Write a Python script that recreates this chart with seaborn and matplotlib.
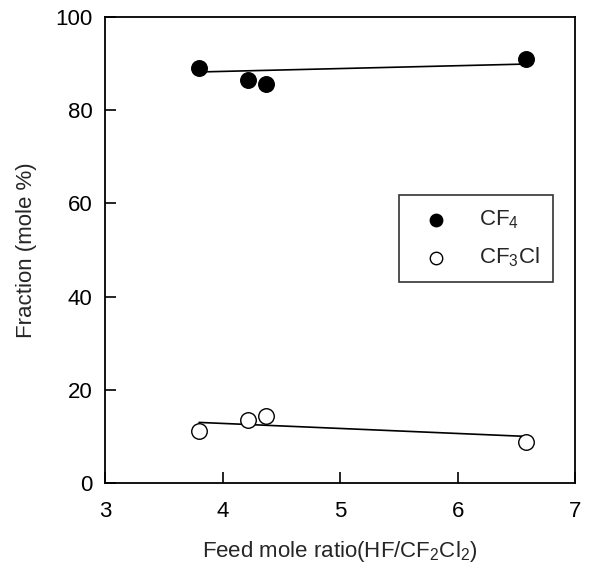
import matplotlib
matplotlib.use("Agg")
import matplotlib.pyplot as plt
import seaborn as sns
import pandas as pd

# Feed mole ratio HF/CF2Cl2 and product fractions (mole %)
feed_ratio = [3.80, 4.22, 4.37, 6.58]
cf4_fraction = [89.0, 86.4, 85.6, 91.0]
cf3cl_fraction = [11.2, 13.6, 14.4, 8.7]

# Trend lines drawn through each series
trend_x = [3.80, 6.58]
cf4_trend = [88.2, 89.9]
cf3cl_trend = [13.0, 10.0]

x_ticks = [3, 4, 5, 6, 7]
y_ticks = [0, 20, 40, 60, 80, 100]

sns.set_theme(style="ticks")
plt.rcParams["font.family"] = ["Liberation Sans", "DejaVu Sans"]
plt.rcParams["mathtext.default"] = "regular"

FS = 16

fig = plt.figure(figsize=(5.9, 5.72), dpi=100)
ax = fig.add_axes([0.178, 0.1556, 0.797, 0.8147])

df = pd.DataFrame({"x": feed_ratio, "cf4": cf4_fraction, "cf3cl": cf3cl_fraction})
trend = pd.DataFrame({"x": trend_x, "cf4": cf4_trend, "cf3cl": cf3cl_trend})

sns.lineplot(data=trend, x="x", y="cf4", ax=ax, color="black", lw=1.2, legend=False)
sns.lineplot(data=trend, x="x", y="cf3cl", ax=ax, color="black", lw=1.2, legend=False)

sns.scatterplot(data=df, x="x", y="cf4", ax=ax, s=125, color="black",
                edgecolor="black", linewidth=1.0, label="CF$_4$", zorder=3)
sns.scatterplot(data=df, x="x", y="cf3cl", ax=ax, s=125, facecolor="white",
                edgecolor="black", linewidth=1.0, label="CF$_3$Cl", zorder=3)

ax.set_xlim(3, 7)
ax.set_ylim(0, 100)
ax.set_xticks(x_ticks)
ax.set_yticks(y_ticks)
ax.tick_params(direction="in", length=8, width=1.2, labelsize=FS, colors="black")
ax.tick_params(axis="x", pad=13)
ax.tick_params(axis="y", pad=9)
for side in ax.spines.values():
    side.set_color("black")
    side.set_linewidth(1.3)

ax.set_xlabel("Feed mole ratio(HF/CF$_2$Cl$_2$)", fontsize=FS, labelpad=12)
ax.set_ylabel("Fraction (mole %)", fontsize=FS, labelpad=13)

leg = ax.legend(loc="upper left", bbox_to_anchor=(0.6255, 0.618), frameon=True,
                fancybox=False, fontsize=FS, markerscale=0.8,
                handletextpad=0.9, borderpad=0.6, labelspacing=0.65,
                borderaxespad=0.0, handlelength=2.1)
leg.get_frame().set_edgecolor("black")
leg.get_frame().set_linewidth(1.2)

fig.savefig("out.png", dpi=100)
